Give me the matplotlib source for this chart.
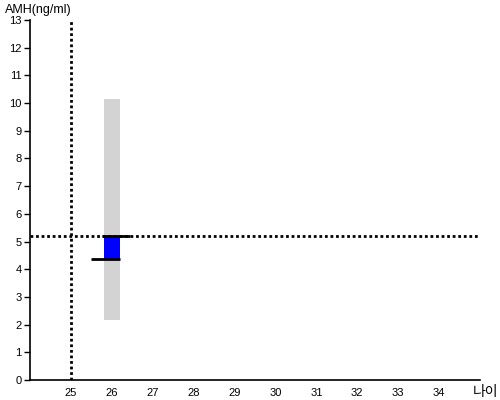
import matplotlib
matplotlib.use("Agg")
import matplotlib.pyplot as plt

plt.rcParams['font.family'] = ['Liberation Sans', 'Noto Sans CJK KR', 'DejaVu Sans']

# data
age = 26
ref_age = 25
amh = 5.2
age_norm_amh = 4.37
range_low = 2.17
range_high = 10.15
xticks = list(range(25, 35))
yticks = list(range(0, 14))

fig = plt.figure(figsize=(5, 4), dpi=100)
ax = fig.add_axes([0.06, 0.05, 0.90, 0.90])

# gray range bar
ax.bar(age, range_high - range_low, bottom=range_low, width=0.38,
       color='#d3d3d3', zorder=1)
# blue box between age norm and measured value
ax.bar(age, amh - age_norm_amh, bottom=age_norm_amh, width=0.38,
       color='#0000ff', zorder=2)
ax.hlines(amh, age - 0.24, age + 0.45, color='black', lw=2, zorder=3)
ax.hlines(age_norm_amh, age - 0.5, age + 0.19, color='black', lw=2, zorder=3)

# reference lines
ax.axhline(amh, color='black', lw=2, ls=(0, (1, 1)), zorder=4)
ax.axvline(ref_age, color='black', lw=2, ls=(0, (1, 1)), zorder=4)

ax.set_xlim(24, 35)
ax.set_ylim(0, 13)
ax.set_xticks(xticks)
ax.set_yticks(yticks)
ax.tick_params(axis='x', length=0, pad=6, labelsize=8)
ax.tick_params(axis='y', length=4, width=1, pad=2, labelsize=8)
for s in ['top', 'right']:
    ax.spines[s].set_visible(False)
ax.spines['left'].set_linewidth(1.2)
ax.spines['bottom'].set_linewidth(1.2)

fig.text(0.01, 0.975, 'AMH(ng/ml)', fontsize=9, va='center', ha='left')
fig.text(0.945, 0.02, '나이', fontsize=10, va='center', ha='left',
         family=['Noto Sans CJK KR', 'DejaVu Sans'])

fig.savefig('out.png', dpi=100)
